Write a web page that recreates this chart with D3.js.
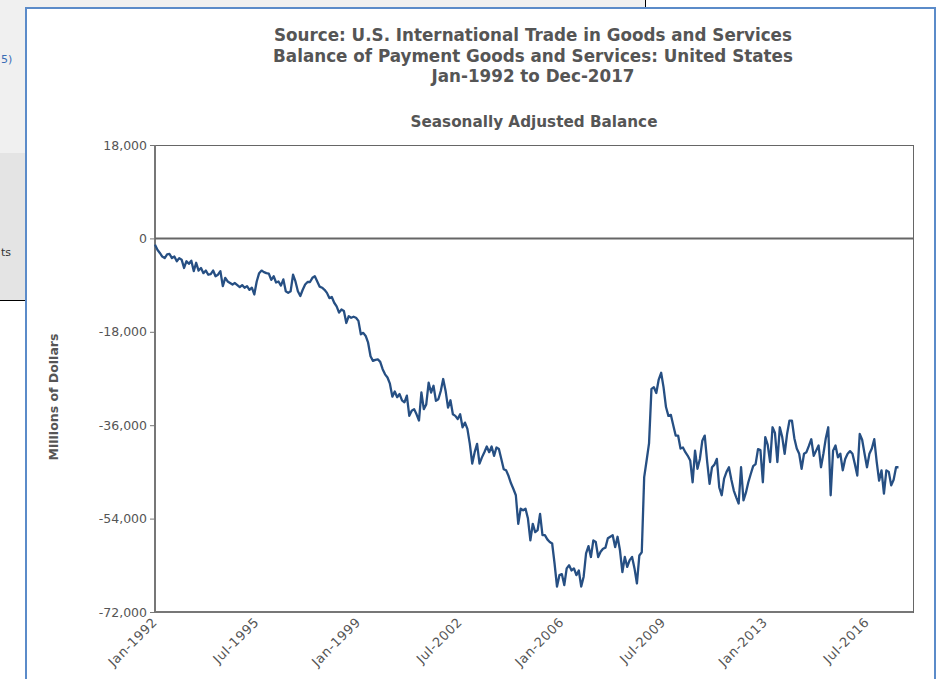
<!DOCTYPE html>
<html>
<head>
<meta charset="utf-8">
<script src="https://cdn.jsdelivr.net/npm/d3@7"></script>
<style>
  body { margin: 0; background: #fff; }
  svg { display: block; }
</style>
</head>
<body>
<svg id="chart" width="944" height="679"></svg>
<script>
// data: monthly balance, millions of dollars, starting Jan-1992
var START_YEAR = 1992;
var balance = [
  -1200,-2200,-2800,-3500,-3800,-3100,-3000,-3800,-3500,-4400,-3800,-4100,
  -5700,-4400,-4900,-4300,-6300,-4700,-6200,-5700,-6700,-6200,-7000,-6900,
  -6200,-7300,-7000,-6300,-9200,-7600,-8300,-8600,-8900,-8600,-9000,
  -9400,-9000,-9500,-9200,-9900,-9500,-10800,-8300,-6700,-6200,-6500,-6700,
  -6800,-8000,-7300,-8500,-8300,-9100,-7900,-10200,-10500,-10200,-7000,-8300,
  -10200,-11100,-9900,-8900,-8400,-8400,-7600,-7300,-8300,-9300,-9500,-9900,
  -10500,-11500,-11300,-12400,-13100,-14300,-13700,-14000,-16300,-15000,-15300,-15100,
  -15300,-15900,-18500,-18200,-18800,-20100,-22700,-23600,-23400,-23300,-23800,-25200,
  -26200,-26800,-28000,-30500,-29500,-30600,-30000,-31200,-31600,-30300,-34200,-33200,
  -32900,-33900,-35100,-29700,-32900,-32000,-27800,-29700,
  -28400,-31300,-31000,-29400,-27100,-29400,-32600,-31200,-33900,-34200,-34800,-33900,
  -36400,-35500,-36700,-39600,-43400,-41200,-39600,-43400,-42200,-41200,-40100,-41200,
  -40100,-41900,-40300,-40600,-42500,-44500,-44700,-45800,-47200,-48300,-49500,-55000,
  -52100,-52400,-52100,-54000,-58200,-55000,-56600,-56200,-53100,-57200,-57200,-58000,
  -58500,-58800,-62700,-67100,-64900,-64700,-66800,-63600,-63000,-64000,-63600,-64900,
  -64000,-67100,-65200,-60700,-59300,-61400,-58200,-58500,-61400,-60400,-59800,-59600,
  -57800,-57500,-57200,-59500,-57500,-60100,-64300,-61400,-63300,-62000,-61400,-63600,
  -66500,-61100,-60500,-46000,-42800,-39500,-29000,-28700,-29800,-27200,-25900,-28700,
  -32500,-34200,-34000,-36000,-38000,-38000,-40500,-40300,-41200,-41900,-42800,-47000,
  -40900,-44400,-42500,-39000,-38000,-43000,-47300,-44100,-43600,-42500,-48000,-49500,
  -46300,-45000,-44100,-46500,-48600,-49900,-51100,-44100,-50500,-49000,-47000,-45400,
  -43900,-43500,-40600,-40800,-47000,-38300,-39800,-43100,-36400,-37500,-43100,-36400,
  -38300,
  -41500,-37700,-35100,-35100,-38500,-40500,-41500,-44400,-41500,-41200,-40000,-38700,
  -41900,-40900,-39900,-44100,-41500,-38500,-36400,-49500,-40900,-39900,-42200,-41500,
  -44700,-42500,-41500,-41000,-41500,-43500,-45700,-37700,-38800,-41500,-44100,-41500,
  -40500,-38700,-43000,-46700,-44700,-49200,-44700,-45000,-47600,-46500,-44100,-44100
];

// tick labels on the month axis (months since Jan-1992)
var tickMonths = [0, 42, 84, 126, 168, 210, 252, 294];
var tickLabels = ['Jan-1992','Jul-1995','Jan-1999','Jul-2002','Jan-2006','Jul-2009','Jan-2013','Jul-2016'];
var yTicks = [18000, 0, -18000, -36000, -54000, -72000];

var titleLines = [
  'Source: U.S. International Trade in Goods and Services',
  'Balance of Payment Goods and Services: United States',
  'Jan-1992 to Dec-2017'
];

var svg = d3.select('#chart');
var FONT = 'Verdana, "DejaVu Sans", sans-serif';

// --- page behind the chart panel
svg.append('rect').attr('x',0).attr('y',0).attr('width',25).attr('height',300).attr('fill','#f0f0f0');
svg.append('rect').attr('x',0).attr('y',153).attr('width',25).attr('height',147).attr('fill','#e4e4e4');
svg.append('line').attr('x1',0).attr('x2',25).attr('y1',300.5).attr('y2',300.5).attr('stroke','#000');
svg.append('rect').attr('x',25).attr('y',0).attr('width',620).attr('height',8).attr('fill','#f0f0f0');
svg.append('line').attr('x1',645.5).attr('x2',645.5).attr('y1',0).attr('y2',8).attr('stroke','#000');
svg.append('text').attr('x',1).attr('y',63).text('5)')
  .style('font','11px ' + FONT).attr('fill','#3a6db5');
svg.append('text').attr('x',1).attr('y',256).text('ts')
  .style('font','11px ' + FONT).attr('fill','#333');

// chart panel
svg.append('rect').attr('x',26).attr('y',8).attr('width',909).attr('height',690)
  .attr('fill','#fff').attr('stroke','#5b8bc9').attr('stroke-width',2);

// --- titles
function fitText(sel, target){
  // scale font size so the text is about the target width
  var size = parseFloat(sel.style('font-size'));
  var w = sel.node().getComputedTextLength();
  sel.style('font-size', (size * target / w).toFixed(2) + 'px');
}

var title = svg.append('g').attr('fill','#555').style('font-family', FONT).style('font-weight','bold');
titleLines.forEach(function(t, i){
  var tt = title.append('text').attr('x', 533).attr('y', 41 + i * 20.5)
    .attr('text-anchor','middle').style('font-size','15px').text(t);
  if (i === 0) fitText(tt, 518);
});
var fs = title.select('text').style('font-size');
title.selectAll('text').style('font-size', fs);

var sub = svg.append('text').attr('x', 534).attr('y', 127).attr('text-anchor','middle')
  .attr('fill','#555').style('font-family', FONT).style('font-weight','bold')
  .style('font-size','13px').text('Seasonally Adjusted Balance');
fitText(sub, 247);

// --- scales
var margin = {left: 155, right: 913, top: 145, bottom: 612};
var x = d3.scaleLinear().domain([0, 313]).range([margin.left, margin.right]);
var y = d3.scaleLinear().domain([-72000, 18000]).range([margin.bottom, margin.top]);

// frame
svg.append('rect').attr('x', margin.left + 0.5).attr('y', margin.top + 0.5)
  .attr('width', margin.right - margin.left).attr('height', margin.bottom - margin.top)
  .attr('fill','none').attr('stroke','#666').attr('stroke-width',1);
svg.append('line').attr('x1', margin.left).attr('x2', margin.left)
  .attr('y1', margin.top).attr('y2', margin.bottom + 1)
  .attr('stroke','#777').attr('stroke-width',2);
svg.append('line').attr('x1', margin.left).attr('x2', margin.right)
  .attr('y1', margin.bottom).attr('y2', margin.bottom)
  .attr('stroke','#777').attr('stroke-width',2);

// y axis, plain hyphen for negatives like the original
var fmt = d3.formatLocale({decimal: '.', thousands: ',', grouping: [3], currency: ['$',''], minus: '-'}).format(',');
var yAxis = d3.axisLeft(y).tickValues(yTicks).tickSize(5).tickPadding(3).tickFormat(fmt);
var gy = svg.append('g').attr('transform','translate(' + margin.left + ',0)').call(yAxis);
gy.select('.domain').remove();
gy.selectAll('.tick line').attr('stroke','#777');
gy.selectAll('.tick text').attr('fill','#555').style('font-family', FONT).style('font-size','12.5px');

// zero line
svg.append('line').attr('x1', margin.left).attr('x2', margin.right)
  .attr('y1', y(0)).attr('y2', y(0)).attr('stroke','#666').attr('stroke-width',2);

// x tick labels
var gx = svg.append('g');
gx.selectAll('text').data(tickMonths).enter().append('text')
  .attr('transform', function(d){ return 'translate(' + (x(d) + 3) + ',' + (margin.bottom + 11) + ') rotate(-45)'; })
  .attr('text-anchor','end')
  .attr('fill','#555').style('font-family', FONT).style('font-size','13px')
  .style('letter-spacing','0.6px')
  .text(function(d, i){ return tickLabels[i]; });

// y axis title
var yt = svg.append('text').attr('transform','translate(58,397) rotate(-90)')
  .attr('text-anchor','middle').attr('fill','#555')
  .style('font-family', FONT).style('font-weight','bold').style('font-size','11px')
  .text('Millions of Dollars');
fitText(yt, 127);

// line
var line = d3.line()
  .x(function(d, i){ return x(i); })
  .y(function(d){ return y(d); });
svg.append('path').datum(balance)
  .attr('d', line)
  .attr('fill','none')
  .attr('stroke','#264f83')
  .attr('stroke-width',2.3)
  .attr('stroke-linejoin','round');
</script>
</body>
</html>
